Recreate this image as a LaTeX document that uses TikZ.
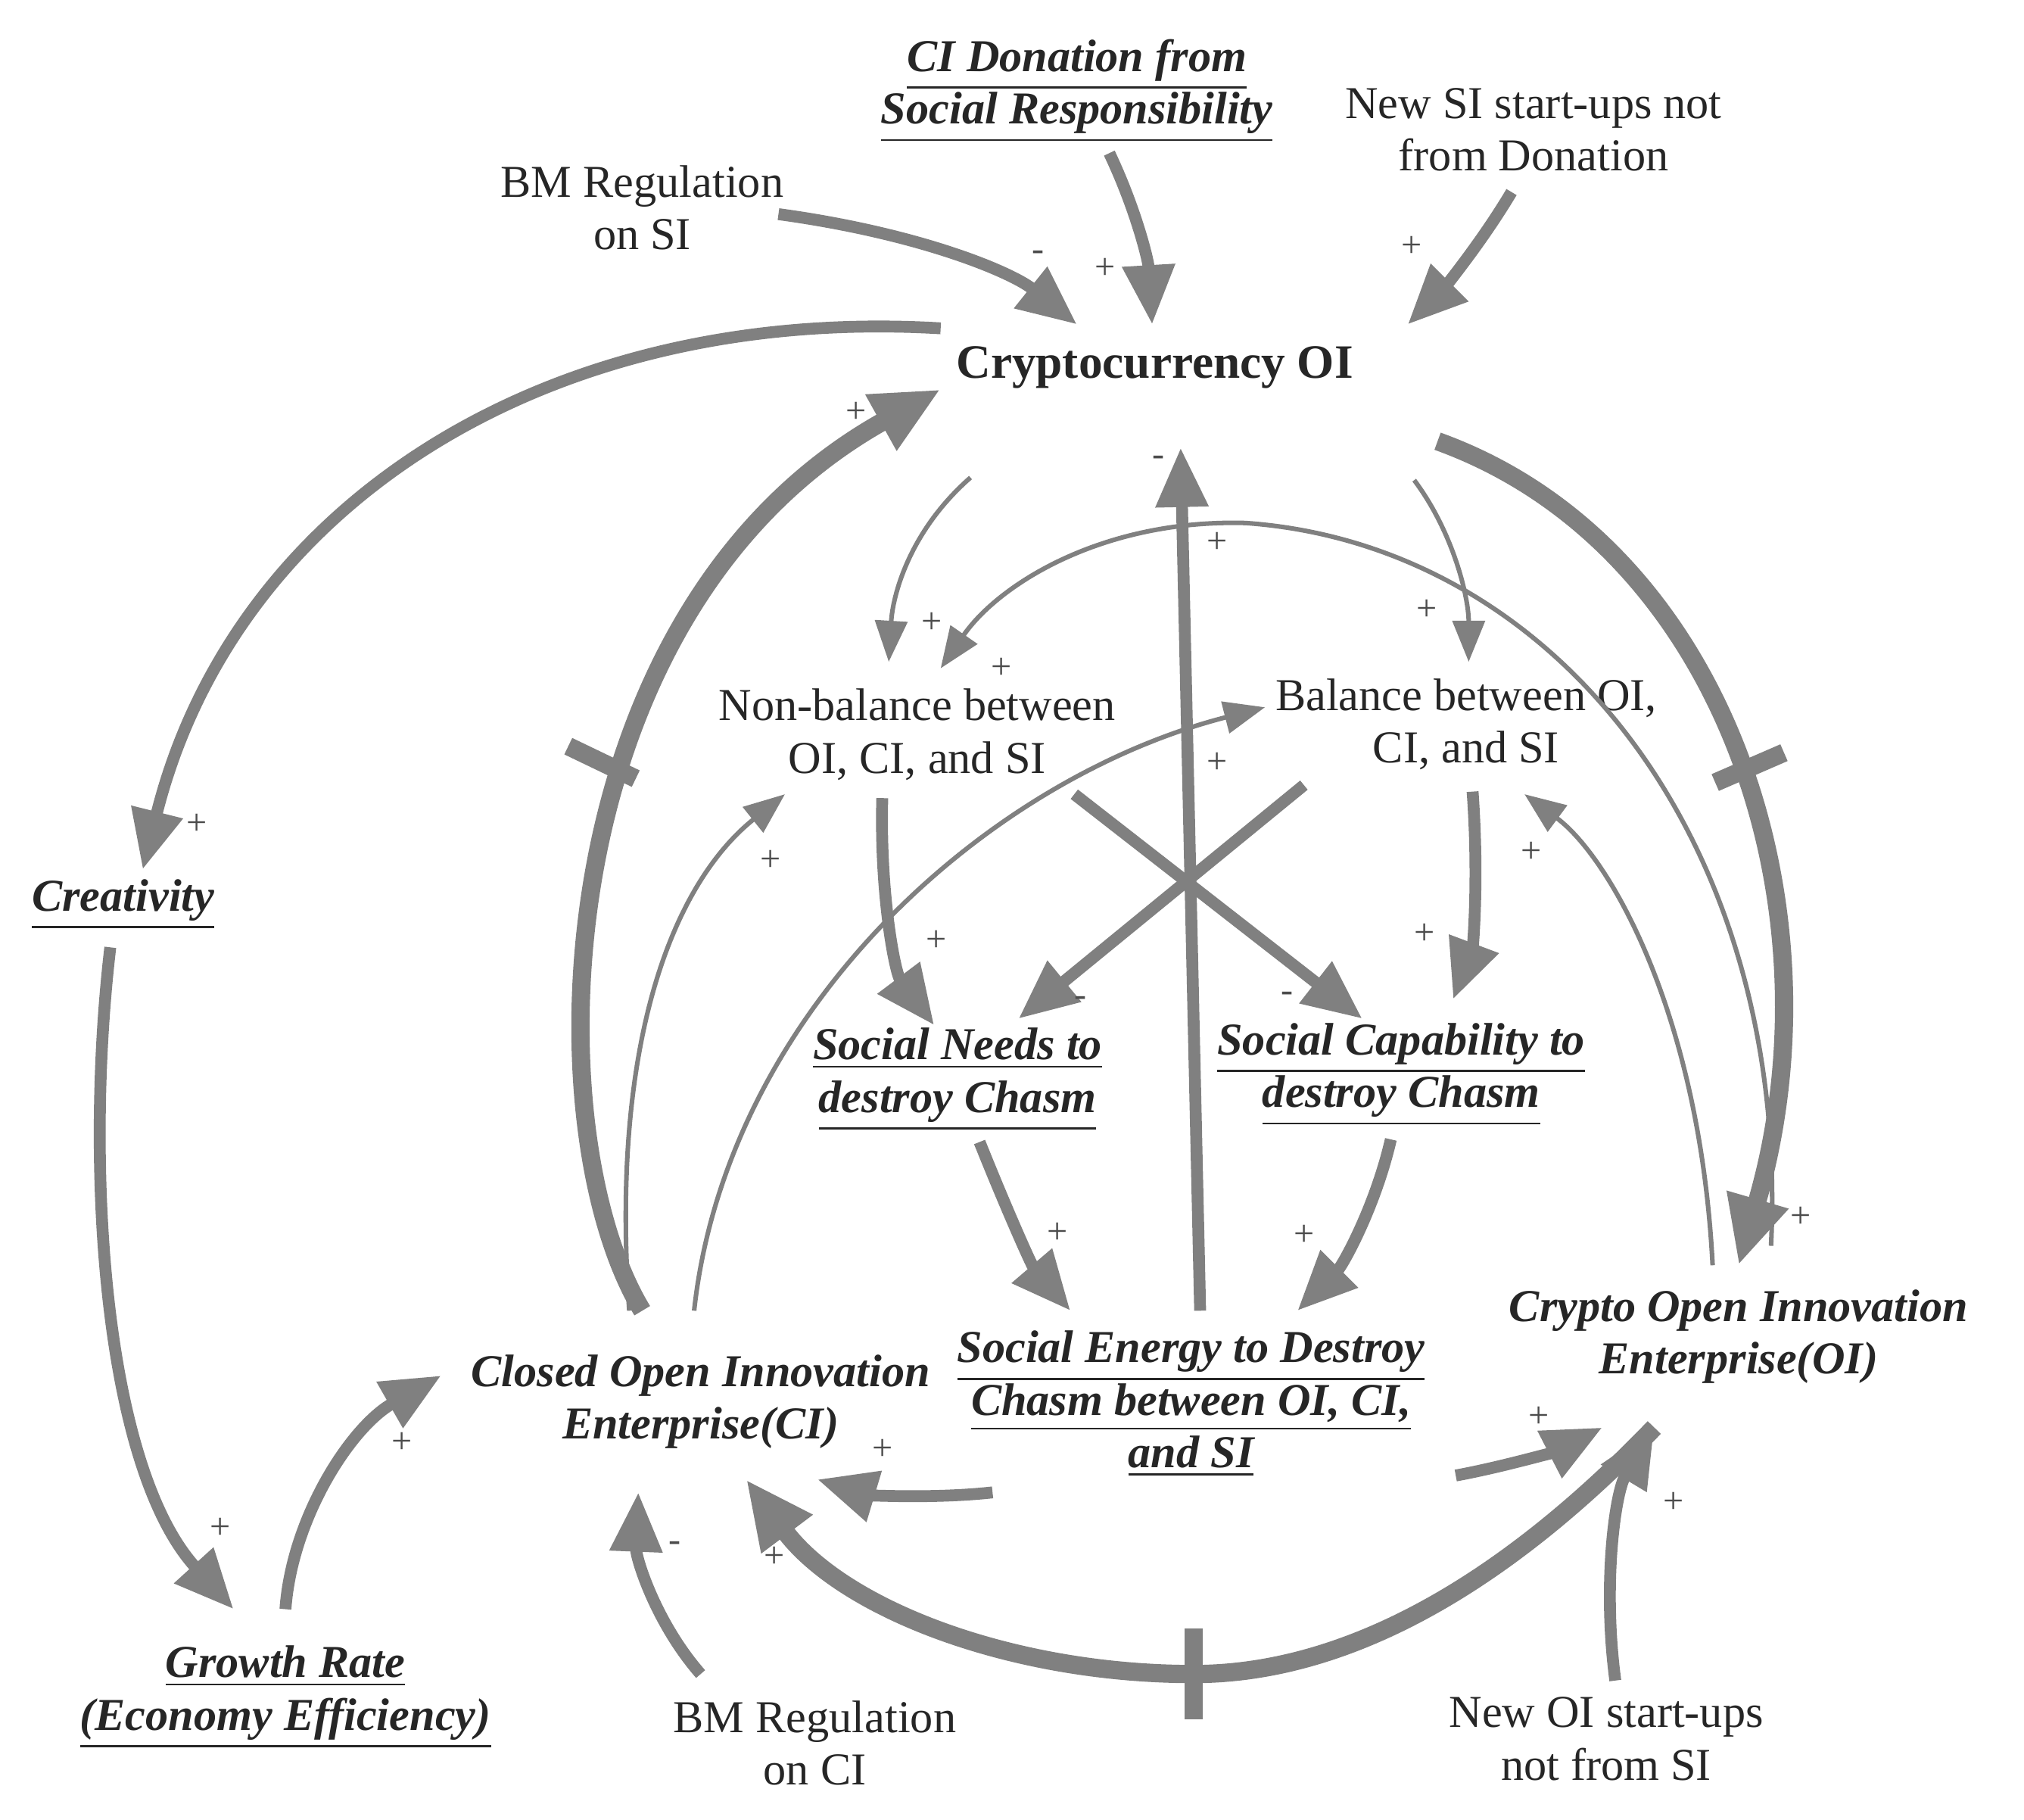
\documentclass[tikz,border=0pt]{standalone}
\usepackage{fontspec}
\setmainfont{Liberation Serif}
\usetikzlibrary{arrows.meta}
\begin{document}
\begin{tikzpicture}[x=0.01cm,y=-0.01cm,
 t/.style={font=\fontsize{10}{11.5}\selectfont,align=center,text=black!85},
 b/.style={t,font=\fontsize{10}{11.5}\selectfont\bfseries\itshape},
 a/.style={draw=black!50,line width=1pt,-{Triangle[length=9pt,width=7pt]}},
 m/.style={a,line width=2.6pt,-{Triangle[length=13pt,width=11pt]}},
 k/.style={a,line width=4pt,-{Triangle[length=15pt,width=13pt]}},
 s/.style={font=\fontsize{8}{9}\selectfont,text=black!70},
 bar/.style={draw=black!50,line width=4pt}]
\useasboundingbox (0,0) rectangle (1560,1402);
\node[b] (don) at (830,70) {\underline{CI Donation from}\\\underline{Social Responsibility}};
\node[t] (nsi) at (1182,100) {New SI start-ups not\\from Donation};
\node[t] (bms) at (495,160) {BM Regulation\\on SI};
\node[t,font=\fontsize{10.5}{12}\selectfont\bfseries] (cr) at (890,283) {Cryptocurrency OI};
\node[b] (cre) at (95,697) {\underline{Creativity}};
\node[t] (nb) at (707,566) {Non-balance between\\OI, CI, and SI};
\node[t] (bal) at (1130,558) {Balance between OI,\\CI, and SI};
\node[b] (sn) at (738,832) {\underline{Social Needs to}\\\underline{destroy Chasm}};
\node[b] (sc) at (1080,828) {\underline{Social Capability to}\\\underline{destroy Chasm}};
\node[b] (ci) at (540,1080) {Closed Open Innovation\\Enterprise(CI)};
\node[b] (se) at (918,1082) {\underline{Social Energy to Destroy}\\\underline{Chasm between OI, CI,}\\\underline{and SI}};
\node[b] (oi) at (1340,1030) {Crypto Open Innovation\\Enterprise(OI)};
\node[b] (gr) at (220,1308) {\underline{Growth Rate}\\\underline{(Economy Efficiency)}};
\node[t] (bmc) at (628,1343) {BM Regulation\\on CI};
\node[t] (noi) at (1238,1340) {New OI start-ups\\not from SI};
% external inputs
\draw[m] (600,165) .. controls (710,180) and (780,210) .. (830,250);
\draw[m] (855,118) .. controls (875,160) and (885,200) .. (888,250);
\draw[m] (1165,148) .. controls (1140,190) and (1110,225) .. (1085,250);
\draw[m] (540,1290) .. controls (505,1250) and (490,1200) .. (492,1150);
\draw[m] (1245,1295) .. controls (1235,1220) and (1245,1150) .. (1275,1100);
% left loop
\draw[m] (725,253) .. controls (420,235) and (180,390) .. (110,670);
\draw[m] (85,730) .. controls (65,900) and (80,1130) .. (180,1240);
\draw[m] (220,1240) .. controls (225,1170) and (270,1100) .. (340,1060);
\draw[k] (495,1010) .. controls (410,870) and (420,470) .. (725,300);
\draw[bar] (438,575) -- (490,600);
\draw[k] (1108,340) .. controls (1330,420) and (1420,700) .. (1340,975);
\draw[bar] (1322,603) -- (1375,580);
\draw[k] (1275,1100) .. controls (1150,1230) and (1030,1290) .. (920,1290) .. controls (780,1290) and (650,1240) .. (575,1140);
\draw[bar] (920,1255) -- (920,1325);
% inner
\draw[a] (748,368) .. controls (700,410) and (688,460) .. (685,510);
\draw[a] (1090,370) .. controls (1120,410) and (1132,460) .. (1132,510);
\draw[a] (1365,960) .. controls (1380,650) and (1200,420) .. (960,403) .. controls (850,400) and (770,450) .. (725,515);
\draw[m] (925,1010) -- (910,345);
\draw[a] (535,1010) .. controls (560,780) and (760,600) .. (975,545);
\draw[a] (485,1010) .. controls (470,800) and (520,680) .. (605,612);
\draw[a] (1320,975) .. controls (1310,780) and (1240,660) .. (1175,612);
\draw[m] (680,615) .. controls (678,690) and (690,750) .. (720,790);
\draw[m] (1135,610) .. controls (1140,680) and (1135,730) .. (1120,770);
\draw[m] (828,612) -- (1050,785);
\draw[m] (1005,605) -- (785,785);
\draw[m] (755,880) .. controls (775,930) and (795,975) .. (825,1010);
\draw[m] (1072,878) .. controls (1060,930) and (1035,975) .. (1000,1010);
\draw[m] (765,1150) .. controls (720,1155) and (670,1152) .. (630,1140);
\draw[m] (1122,1137) .. controls (1160,1130) and (1200,1118) .. (1235,1100);
% signs
\foreach \p/\l in {(800,197)/-,(852,207)/+,(1088,190)/+,(152,635)/+,(170,1178)/+,(310,1112)/+,(660,318)/+,(1388,938)/+,(718,480)/+,(1100,470)/+,(938,418)/+,(772,515)/+,(893,355)/-,(938,588)/+,(594,663)/+,(1180,657)/+,(722,725)/+,(1098,720)/+,(992,768)/-,(833,772)/-,(815,950)/+,(1005,952)/+,(680,1117)/+,(1186,1092)/+,(597,1200)/+,(520,1192)/-,(1290,1158)/+}
 \node[s] at \p {\l};
\end{tikzpicture}
\end{document}
